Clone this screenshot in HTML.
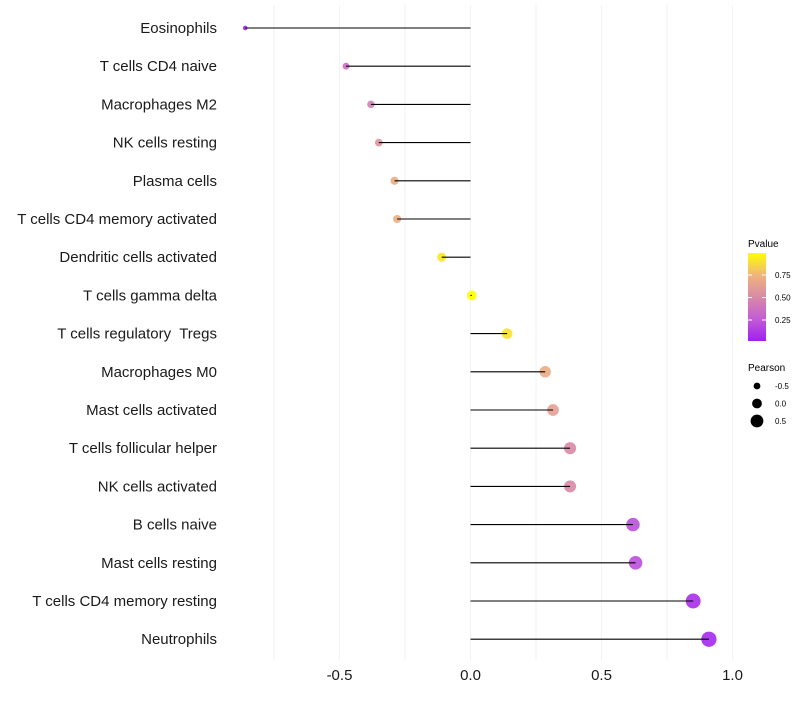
<!DOCTYPE html>
<html><head><meta charset="utf-8"><style>
body{margin:0;background:#fff;font-family:"Liberation Sans",sans-serif}
</style></head><body>
<svg id="chart" width="800" height="700" xmlns="http://www.w3.org/2000/svg" font-family="Liberation Sans, sans-serif">
<defs><linearGradient id="pg" x1="0" y1="1" x2="0" y2="0">
<stop offset="0" stop-color="#a020f0"/><stop offset="0.25" stop-color="#c25cd6"/><stop offset="0.5" stop-color="#d98aa6"/><stop offset="0.75" stop-color="#efb57c"/><stop offset="1" stop-color="#ffff00"/></linearGradient></defs>
<g id="grid"></g><g id="dots"></g><g id="marks"></g><g id="ylab"></g><g id="xlab"></g>
<g>
<text x="748" y="247" font-size="10">Pvalue</text>
<rect x="748" y="253" width="18" height="88" fill="url(#pg)"/>
<g id="plegend"></g>
</g>
<g>
<text x="748" y="371" font-size="10">Pearson</text>
<g id="slegend"></g>
</g>
</svg>
<script>
const categories=["Eosinophils","T cells CD4 naive","Macrophages M2","NK cells resting","Plasma cells","T cells CD4 memory activated","Dendritic cells activated","T cells gamma delta","T cells regulatory\u00a0 Tregs","Macrophages M0","Mast cells activated","T cells follicular helper","NK cells activated","B cells naive","Mast cells resting","T cells CD4 memory resting","Neutrophils"];
const pearson=[-0.86,-0.475,-0.38,-0.35,-0.29,-0.28,-0.11,0.005,0.14,0.285,0.315,0.38,0.38,0.62,0.63,0.85,0.91];
const pvalue=[0.03,0.35,0.45,0.55,0.7,0.7,0.92,1.0,0.9,0.7,0.62,0.5,0.5,0.2,0.2,0.06,0.04];
const xTicks=[-0.5,0,0.5,1.0];
const xTickLabels=["-0.5","0.0","0.5","1.0"];
const gridVals=[-0.75,-0.5,-0.25,0,0.25,0.5,0.75,1.0];
const pTicks=[0.25,0.5,0.75];
const sizeLegend=[-0.5,0,0.5];
const NS="http://www.w3.org/2000/svg";
const x=v=>470.5+262*v;
const y=i=>28+i*38.2;
const r=v=>4.9+3*v;
const stops=[[0,[160,32,240]],[0.25,[194,92,214]],[0.5,[217,138,166]],[0.75,[239,181,124]],[1,[255,255,0]]];
function col(p){for(let k=1;k<stops.length;k++){if(p<=stops[k][0]){const a=stops[k-1],b=stops[k],t=(p-a[0])/(b[0]-a[0]);return "rgb("+a[1].map((c,j)=>Math.round(c+(b[1][j]-c)*t)).join(",")+")";}}return "rgb(255,255,0)";}
function mk(tag,at,parent){const e=document.createElementNS(NS,tag);for(const k in at)e.setAttribute(k,at[k]);document.getElementById(parent).appendChild(e);return e;}
gridVals.forEach(v=>{const l=mk("line",{x1:x(v),x2:x(v),y1:5,y2:660,stroke:"#f2f2f2","stroke-width":1},"grid");

});
categories.forEach((c,i)=>{
const d=mk("circle",{cx:x(pearson[i]),cy:y(i),r:r(pearson[i]),fill:col(pvalue[i]),"fill-opacity":0.9},"dots");


const l=mk("line",{x1:x(0),x2:x(pearson[i]),y1:y(i),y2:y(i),stroke:"#000","stroke-width":1.1},"marks");


const t=mk("text",{x:217,y:y(i)+5,"text-anchor":"end","font-size":15,fill:"#1a1a1a"},"ylab");t.textContent=c;


});
xTicks.forEach((v,i)=>{const t=mk("text",{x:x(v),y:680,"text-anchor":"middle","font-size":15,fill:"#1a1a1a"},"xlab");t.textContent=xTickLabels[i];

});
pTicks.forEach(p=>{const yy=342.5-90*p;
const t=mk("text",{x:775,y:yy+3,"font-size":8},"plegend");t.textContent=p.toFixed(2);


mk("line",{x1:748,x2:752,y1:yy,y2:yy,stroke:"#fff"},"plegend");mk("line",{x1:762,x2:766,y1:yy,y2:yy,stroke:"#fff"},"plegend");});
sizeLegend.forEach((v,i)=>{const yy=386+i*17.5;
const c=mk("circle",{cx:757,cy:yy,r:r(v),fill:"#000"},"slegend");


const t=mk("text",{x:775,y:yy+3,"font-size":8},"slegend");t.textContent=v.toFixed(1);

});
</script>
</body></html>
